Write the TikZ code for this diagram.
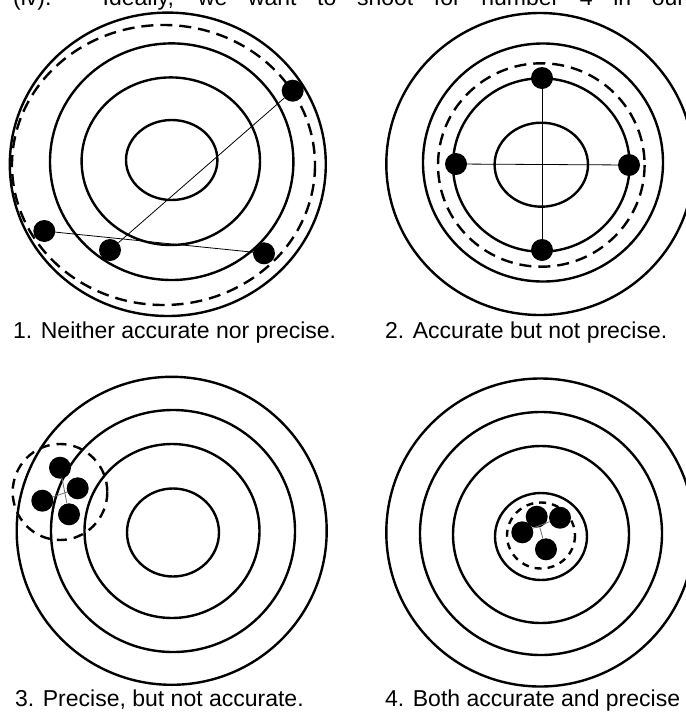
\documentclass[tikz,border=0pt]{standalone}
\usepackage{fontspec}
\setmainfont{Liberation Sans}
\usepackage{xcolor}
\definecolor{cInk}{HTML}{000000}
\definecolor{cGray}{HTML}{6E6E6E}
\usepackage{tikz}
\tikzset{
  ring/.style={draw=cInk,line width=2.4pt},
  ring-dash/.style={draw=cInk,line width=2.4pt,dash pattern=on 12pt off 7pt},
  node-shot/.style={circle,fill=cInk,inner sep=0pt,minimum size=22pt},
  node-caption/.style={anchor=base west,inner sep=0pt,
    font=\fontsize{23}{27}\selectfont},
  link/.style={draw=cInk,line width=0.8pt},
  link-gray/.style={draw=cGray,line width=0.8pt},
}

\begin{document}
\begin{tikzpicture}[x=1pt,y=-1pt]
  \path[use as bounding box] (0,0) rectangle (686,713);
  \clip (0,0) rectangle (686,713);
  \fill[white] (0,0) rectangle (686,713);
  % line of running text, cut off at the top
  \node[node-caption] (head) at (13,5)
    {\makebox[672pt][s]{(iv). Ideally, we want to shoot for number 4 in our}};

  % 1. neither accurate nor precise
  \draw[ring] (167.8,164.3) ellipse [x radius=158,y radius=151.7];
  \draw[ring] (171.7,161.7) ellipse [x radius=121.7,y radius=118.3];
  \draw[ring] (170.8,161.2) ellipse [x radius=89.2,y radius=83.8];
  \draw[ring] (171.7,160) ellipse [x radius=45.7,y radius=40];
  \draw[ring-dash] (163.5,165) ellipse [x radius=151.5,y radius=140];
  \node[node-shot] (s1a) at (292.7,90.7) {};
  \node[node-shot] (s1b) at (44.3,231) {};
  \node[node-shot] (s1c) at (110,250) {};
  \node[node-shot] (s1d) at (264,253.3) {};
  \draw[link] (s1b) -- (s1d);
  \draw[link] (s1c) -- (s1a);
  \node[node-caption] (cap1) at (13,338) {1. Neither accurate nor precise.};

  % 2. accurate but not precise
  \draw[ring] (540,164) ellipse [x radius=153.7,y radius=151];
  \draw[ring] (543,162.5) ellipse [x radius=120,y radius=119];
  \draw[ring] (541.3,165) ellipse [x radius=88.3,y radius=86.7];
  \draw[ring] (541.3,164.7) ellipse [x radius=46.7,y radius=42];
  \draw[ring-dash] (541.3,165) ellipse [x radius=103.3,y radius=101.7];
  \node[node-shot] (s2t) at (542,78) {};
  \node[node-shot] (s2l) at (456,164) {};
  \node[node-shot] (s2r) at (629,165) {};
  \node[node-shot] (s2b) at (542,250) {};
  \draw[link] (s2t) -- (s2b);
  \draw[link] (s2l) -- (s2r);
  \node[node-caption] (cap2) at (385,338) {2. Accurate but not precise.};

  % 3. precise, but not accurate
  \draw[ring] (171.7,530.8) ellipse [x radius=155,y radius=154];
  \draw[ring] (173,531) ellipse [x radius=122,y radius=121];
  \draw[ring] (172,531) ellipse [x radius=87.5,y radius=87];
  \draw[ring] (173,532.5) ellipse [x radius=46,y radius=44];
  \draw[ring-dash,dash pattern=on 10pt off 7pt] (60,492) ellipse [x radius=47.3,y radius=48];
  \node[node-shot] (s3t) at (60,467.7) {};
  \node[node-shot] (s3r) at (77.7,488.3) {};
  \node[node-shot] (s3l) at (42.3,500.7) {};
  \node[node-shot] (s3b) at (69,514.3) {};
  \draw[link-gray] (s3t) -- (s3b);
  \draw[link-gray] (s3l) -- (s3r);
  \node[node-caption] (cap3) at (15,706) {3. Precise, but not accurate.};

  % 4. both accurate and precise
  \draw[ring] (540.3,532.5) ellipse [x radius=154,y radius=154];
  \draw[ring] (541,533.5) ellipse [x radius=121,y radius=121.5];
  \draw[ring] (541,534.5) ellipse [x radius=88,y radius=88.5];
  \draw[ring] (541,536.5) ellipse [x radius=46,y radius=43.5];
  \draw[ring-dash,dash pattern=on 7pt off 6pt] (541,535.5) ellipse [x radius=34,y radius=33];
  \node[node-shot] (s4t) at (536.7,516.7) {};
  \node[node-shot] (s4r) at (560,517.7) {};
  \node[node-shot] (s4l) at (522.3,532.3) {};
  \node[node-shot] (s4b) at (546,549.3) {};
  \draw[link-gray] (s4t) -- (s4b);
  \draw[link-gray] (s4l) -- (s4r);
  \node[node-caption] (cap4) at (385,706) {4. Both accurate and precise};
\end{tikzpicture}
\end{document}
